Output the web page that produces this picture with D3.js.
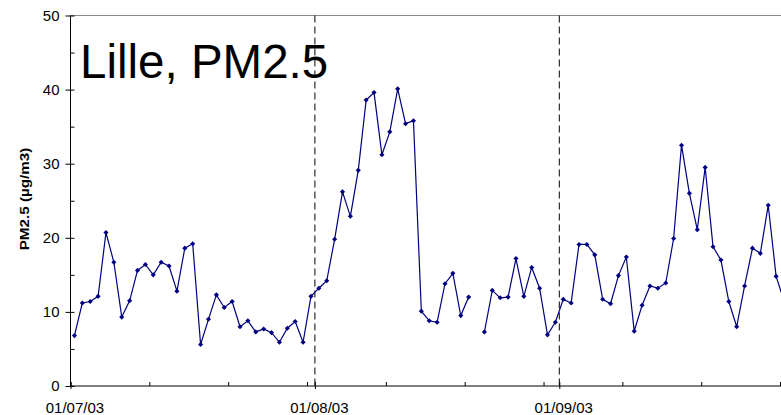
<!DOCTYPE html>
<html>
<head>
<meta charset="utf-8">
<script src="https://cdn.jsdelivr.net/npm/d3@7"></script>
<style>
  html, body { margin: 0; padding: 0; background: #fff; }
  svg { display: block; font-family: "Liberation Sans", Arial, sans-serif; }
</style>
</head>
<body>
<svg id="chart" width="781" height="415"></svg>
<script>
// PM2.5 daily values (µg/m3), Lille, summer 2003
const julyValues = [6.8, 11.2, 11.4, 12.1, 20.7, 16.7, 9.3, 11.5, 15.6, 16.4, 15.0, 16.7, 16.2, 12.8, 18.6, 19.2,
  5.6, 9.0, 12.3, 10.6, 11.4, 8.0, 8.8, 7.3, 7.7, 7.2, 5.9, 7.8, 8.7, 5.9, 12.1];
const augustValues = [13.2, 14.2, 19.8, 26.2, 22.9, 29.1, 38.6, 39.6, 31.2, 34.3, 40.1, 35.4, 35.8, 10.1, 8.8, 8.6,
  13.8, 15.2, 9.5, 12.0, null, 7.3, 12.9, 11.9, 12.0, 17.2, 12.1, 16.0, 13.2, 6.9, 8.6];
const septemberValues = [11.7, 11.2, 19.1, 19.1, 17.7, 11.7, 11.1, 14.9, 17.4, 7.4, 10.9, 13.5, 13.2, 13.9, 19.9,
  32.5, 26.0, 21.1, 29.5, 18.8, 17.0, 11.4, 8.0, 13.5, 18.6, 17.9, 24.4, 14.8, 11.5];
const monthStarts = ["2003-07-01", "2003-08-01", "2003-09-01"];
const tickLabels = ["01/07/03", "01/08/03", "01/09/03"];
const yTickValues = [0, 10, 20, 30, 40, 50];
const yMinorTickValues = [0, 5, 10, 15, 20, 25, 30, 35, 40, 45, 50];
const titleText = "Lille, PM2.5";
const yAxisTitle = "PM2.5 (µg/m3)";

const parse = d3.utcParse("%Y-%m-%d");
const monthDates = monthStarts.map(parse);
const seriesByMonth = [julyValues, augustValues, septemberValues];
const data = [];
seriesByMonth.forEach((vals, m) => {
  vals.forEach((v, i) => {
    data.push({ date: d3.utcDay.offset(monthDates[m], i), value: v });
  });
});

const svg = d3.select("#chart");
const dayPx = 7.884;
const x0 = 70.5;
const x = d3.scaleUtc()
  .domain([parse("2003-07-01"), parse("2003-10-01")])
  .range([x0, x0 + 92 * dayPx]);
const y = d3.scaleLinear().domain([0, 50]).range([386, 15.5]);
const halfDay = dayPx / 2;
const px = d => x(d) + halfDay; // points centred in their day

// top border
svg.append("line")
  .attr("x1", x0).attr("x2", 781).attr("y1", y(50)).attr("y2", y(50))
  .attr("stroke", "#8a8a8a").attr("stroke-width", 1);

// month dashed separators
svg.append("g").selectAll("line").data(monthDates.slice(1)).join("line")
  .attr("x1", d => x(d)).attr("x2", d => x(d))
  .attr("y1", y(50)).attr("y2", 389)
  .attr("stroke", "#000").attr("stroke-width", 1)
  .attr("stroke-dasharray", "7,4");

// y axis: major outside with labels, all ticks inside
const yAxisL = d3.axisLeft(y).tickValues(yTickValues).tickSize(5).tickPadding(6).tickFormat(d3.format("d"));
const gyl = svg.append("g").attr("transform", `translate(${x0},0)`).call(yAxisL);
const yAxisR = d3.axisRight(y).tickValues(yMinorTickValues).tickSize(4).tickFormat("");
const gyr = svg.append("g").attr("transform", `translate(${x0},0)`).call(yAxisR);
[gyl, gyr].forEach(g => {
  g.select(".domain").remove();
  g.selectAll(".tick line").attr("stroke", "#000");
});
gyl.selectAll(".tick text").attr("font-size", 15).attr("fill", "#000")
  .attr("font-family", "'Liberation Sans', Arial, sans-serif");

// x axis
const tenDayTicks = d3.range(0, 10).map(k => d3.utcDay.offset(monthDates[0], 10 * k));
const xAxisTop = d3.axisTop(x).tickValues(tenDayTicks.concat(monthDates)).tickSize(4).tickFormat("");
const gxt = svg.append("g").attr("transform", `translate(0,${y(0)})`).call(xAxisTop);
const xAxisBottom = d3.axisBottom(x).tickValues(monthDates).tickSize(3).tickPadding(13)
  .tickFormat((d, i) => tickLabels[i]);
const gxb = svg.append("g").attr("transform", `translate(0,${y(0)})`).call(xAxisBottom);
[gxt, gxb].forEach(g => {
  g.select(".domain").remove();
  g.selectAll(".tick line").attr("stroke", "#000");
});
gxb.selectAll(".tick text").attr("font-size", 15).attr("fill", "#000")
  .attr("x", halfDay)
  .attr("font-family", "'Liberation Sans', Arial, sans-serif");

// axis lines
svg.append("line").attr("x1", x0).attr("x2", 781).attr("y1", y(0)).attr("y2", y(0))
  .attr("stroke", "#000").attr("stroke-width", 1);
svg.append("line").attr("x1", x0).attr("x2", x0).attr("y1", y(50)).attr("y2", y(0))
  .attr("stroke", "#000").attr("stroke-width", 1);

// data line
const line = d3.line()
  .defined(d => d.value != null)
  .x(d => px(d.date))
  .y(d => y(d.value));
svg.append("path").datum(data)
  .attr("fill", "none").attr("stroke", "#000080").attr("stroke-width", 1.2)
  .attr("d", line);

// diamond markers
const marker = d3.symbol().type(d3.symbolSquare).size(13);
svg.append("g").selectAll("path").data(data.filter(d => d.value != null)).join("path")
  .attr("d", marker)
  .attr("fill", "#000080")
  .attr("transform", d => `translate(${px(d.date)},${y(d.value)}) rotate(45)`);

// title
svg.append("text")
  .attr("x", 80).attr("y", 78)
  .attr("font-size", 47.5)
  .attr("fill", "#000")
  .text(titleText);

// y axis title
svg.append("text")
  .attr("transform", "translate(25,199) rotate(-90) scale(1.27,1)")
  .attr("text-anchor", "middle")
  .attr("dominant-baseline", "central")
  .attr("font-size", 12)
  .attr("font-weight", "bold")
  .attr("fill", "#000")
  .text(yAxisTitle);
</script>
</body>
</html>
